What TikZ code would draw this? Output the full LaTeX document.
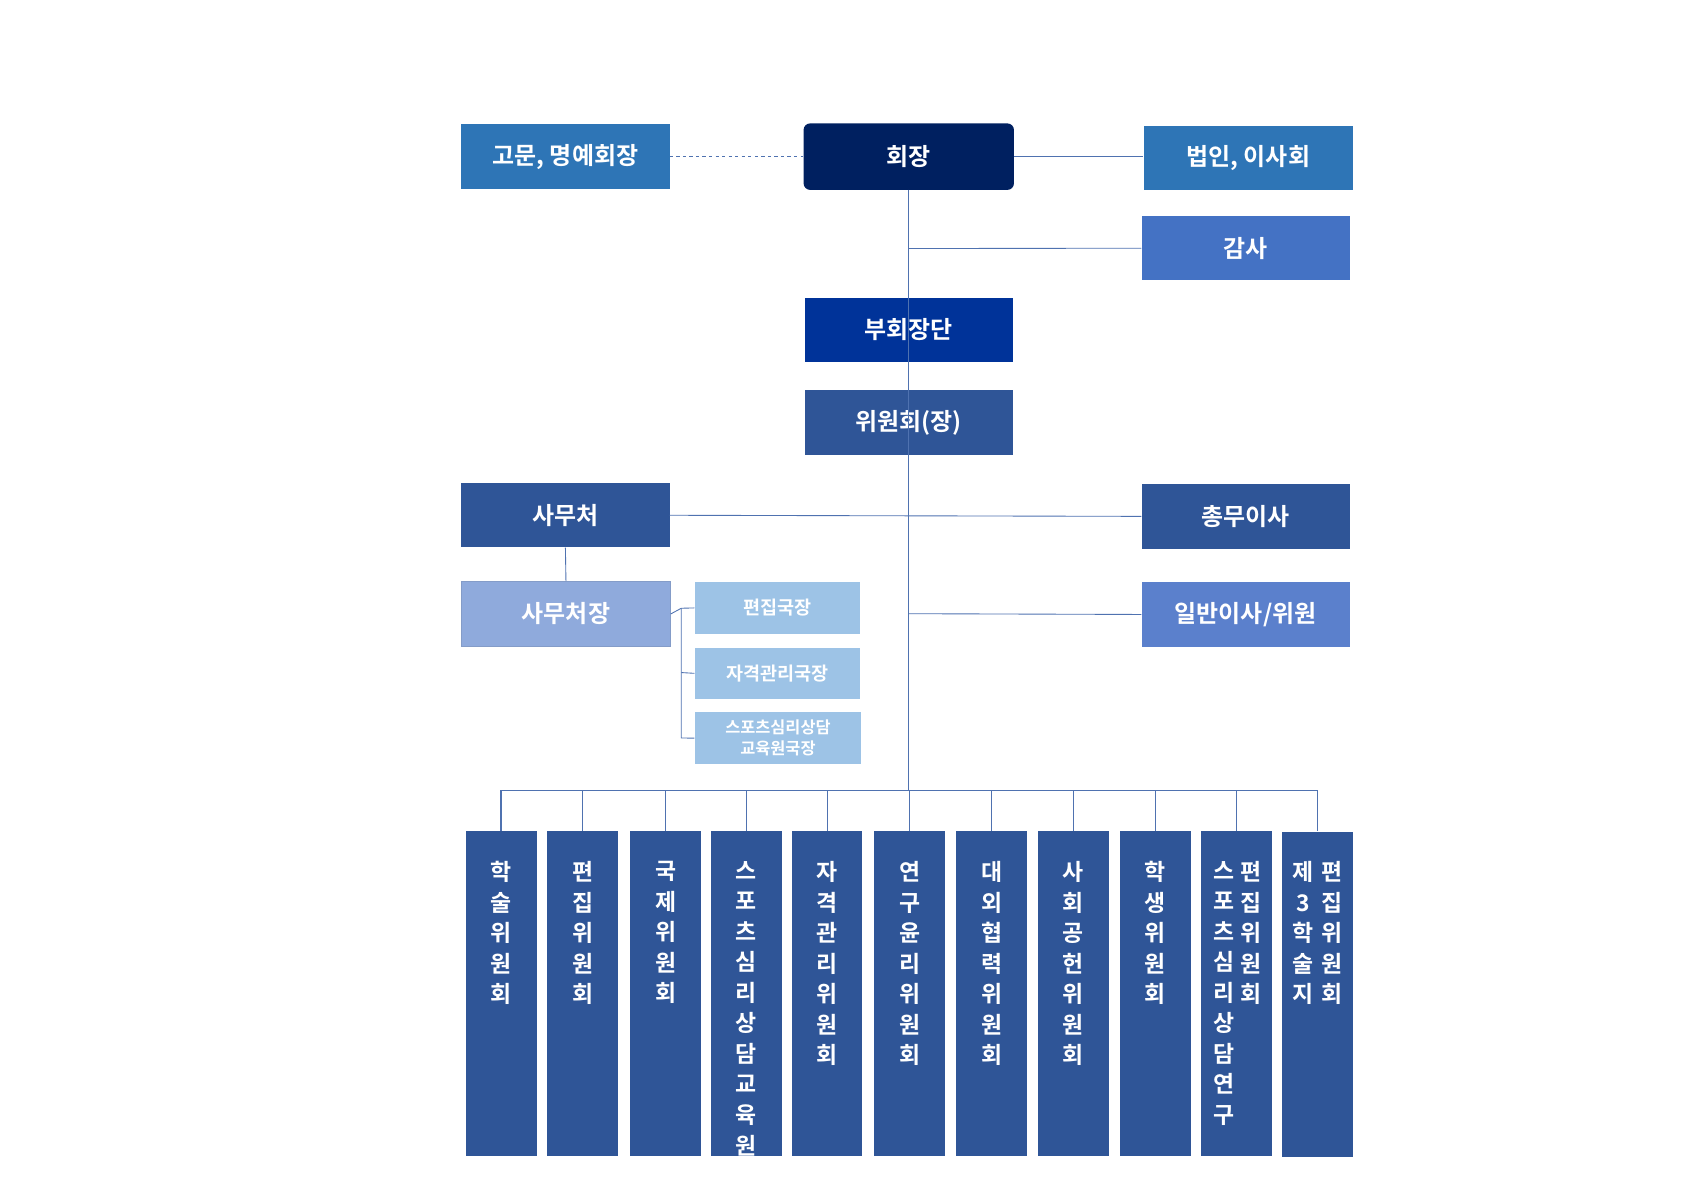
\documentclass[tikz,border=0pt]{standalone}
\usepackage{fontspec}
\setmainfont{Noto Sans CJK KR}[BoldFont={* Bold}]
\definecolor{cA}{HTML}{2E75B6}
\definecolor{cTop}{HTML}{002060}
\definecolor{cGam}{HTML}{4472C4}
\definecolor{cBu}{HTML}{003399}
\definecolor{cMid}{HTML}{2F5597}
\definecolor{cLt}{HTML}{8FAADC}
\definecolor{cIl}{HTML}{5B80CC}
\definecolor{cPale}{HTML}{9DC3E6}
\definecolor{cLine}{HTML}{4F72B0}
\begin{document}
\begin{tikzpicture}[x=1pt,y=-1pt,
 box/.style={fill=#1,text=white,font=\bfseries\fontsize{22}{26}\selectfont,inner sep=0,anchor=north west},
 sbox/.style={fill=cPale,text=white,font=\bfseries\fontsize{17}{20}\selectfont,inner sep=0,anchor=north west,align=center},
 col/.style={fill=cMid,text=white,inner sep=0,anchor=north west},
 vt/.style={text=white,font=\bfseries\fontsize{21}{28}\selectfont,align=center,anchor=north,inner sep=0},
 ln/.style={draw=cLine,line width=0.8pt}]
\useasboundingbox (0,0) rectangle (1566,1101);
\node[box=cA,minimum width=191,minimum height=59] (gm) at (423,114) {고문, 명예회장};
\node[box=cTop,rounded corners=6pt,minimum width=193,minimum height=61] (hj) at (737,113) {회장};
\node[box=cA,minimum width=192,minimum height=59] (bi) at (1049,115) {법인, 이사회};
\node[box=cGam,minimum width=191,minimum height=59] (gs) at (1047,198) {감사};
\node[box=cBu,minimum width=191,minimum height=59] (bh) at (738,273) {부회장단};
\node[box=cMid,minimum width=191,minimum height=59] (ww) at (738,358) {위원회(장)};
\node[box=cMid,minimum width=191,minimum height=59] (sm) at (423,443) {사무처};
\node[box=cMid,minimum width=191,minimum height=59] (cm) at (1047,444) {총무이사};
\node[box=cLt,draw=cLine!70,minimum width=192,minimum height=60] (sj) at (423,533) {사무처장};
\node[box=cIl,minimum width=191,minimum height=59] (il) at (1047,534) {일반이사/위원};
\node[sbox,minimum width=152,minimum height=47] (p1) at (637,534) {편집국장};
\node[sbox,minimum width=152,minimum height=47] (p2) at (637,594) {자격관리국장};
\node[sbox,minimum width=153,minimum height=48,font=\bfseries\fontsize{15}{19}\selectfont] (p3) at (637,653) {스포츠심리상담\\교육원국장};
% connectors
\draw[ln,dashed] (gm.east) -- (gm.east -| hj.west);
\draw[ln] (hj.east) -- (bi.west |- hj.east);
\coordinate (bus) at (833,725);
\draw[ln] (833,174) -- (bus);
\draw[ln] (833,228) -- (gs.west);
\draw[ln] (sm.east) -- (cm.west);
\draw[ln] (833,563) -- (il.west);
\draw[ln] (sm.south) -- (sj.north);
\draw[ln] (sj.east) -- (625,558) -- (p1.west);
\draw[ln] (625,558) -- (625,677) -- (p3.west);
\draw[ln] (625,617) -- (p2.west);
\draw[ln] (459,762) -- (459,725) -- (1209,725) -- (1209,762);
\foreach \x/\n/\t in {427/c1/{학\\술\\위\\원\\회},502/c2/{편\\집\\위\\원\\회},578/c3/{국\\제\\위\\원\\회},652/c4/{스\\포\\츠\\심\\리\\상\\담\\교\\육\\원},726/c5/{자\\격\\관\\리\\위\\원\\회},802/c6/{연\\구\\윤\\리\\위\\원\\회},877/c7/{대\\외\\협\\력\\위\\원\\회},952/c8/{사\\회\\공\\헌\\위\\원\\회},1027/c9/{학\\생\\위\\원\\회}}{
 \node[col,minimum width=65,minimum height=298] (\n) at (\x,762) {};
 \draw[ln] (\n.north) -- (\n.north |- bus);
 \node[vt] at ([yshift=-28]\n.north) {\t};
}
\node[col,minimum width=65,minimum height=298] (c10) at (1102,762) {};
\draw[ln] (c10.north) -- (c10.north |- bus);
\node[vt] at ([xshift=-12,yshift=-28]c10.north) {스\\포\\츠\\심\\리\\상\\담\\연\\구};
\node[vt] at ([xshift=13,yshift=-28]c10.north) {편\\집\\위\\원\\회};
\node[col,minimum width=65,minimum height=298] (c11) at (1176,763) {};
\node[vt] at ([xshift=-13,yshift=-27]c11.north) {제\\3\\학\\술\\지};
\node[vt] at ([xshift=13,yshift=-27]c11.north) {편\\집\\위\\원\\회};
\end{tikzpicture}
\end{document}
